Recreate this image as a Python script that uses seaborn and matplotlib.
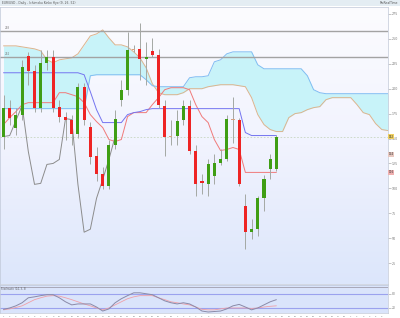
import numpy as np
import pandas as pd
import matplotlib
matplotlib.use("Agg")
import matplotlib.pyplot as plt
from matplotlib.colors import LinearSegmentedColormap
import seaborn as sns

# ---- data (price units) ----
opens = [152, 181, 161, 174, 233, 218, 181, 226, 232, 182, 172, 169, 155, 202, 162,
         132, 114, 102, 144, 189, 199, 240, 240, 230, 238, 234, 183, 152, 153, 169,
         183, 137, 107, 104, 112, 125, 129, 170, 169, 82, 56, 59, 90, 119, 119]
highs = [194, 189, 181, 229, 237, 224, 239, 239, 239, 189, 177, 174, 206, 206, 167,
         141, 121, 149, 179, 209, 257, 244, 266, 247, 251, 240, 189, 169, 179, 189,
         189, 144, 114, 129, 134, 139, 174, 192, 171, 94, 69, 92, 113, 134, 154]
lows = [139, 164, 154, 169, 204, 177, 177, 219, 177, 167, 149, 144, 151, 164, 124,
        107, 99, 99, 139, 183, 194, 237, 209, 204, 232, 181, 132, 144, 144, 164,
        134, 92, 94, 92, 104, 123, 127, 146, 102, 39, 49, 52, 77, 109, 117]
closes = [181, 171, 174, 222, 218, 181, 226, 232, 181, 172, 169, 155, 202, 169, 131,
          114, 102, 144, 170, 199, 239, 239, 230, 232, 234, 184, 152, 153, 168, 183,
          137, 104, 105, 124, 125, 129, 170, 169, 104, 56, 59, 90, 109, 129, 152]
tenkan = [164, 171, 177, 184, 186, 186, 186, 186, 186, 196, 196, 194, 192, 186, 174,
          167, 161, 149, 147, 149, 172, 176, 176, 176, 184, 191, 199, 201, 201, 201,
          199, 184, 172, 166, 149, 138, 139, 141, 139, 116, 116, 116, 116, 116, 116]
kijun = [216, 216, 216, 216, 216, 216, 216, 216, 216, 216, 216, 216, 216, 214, 197,
         179, 166, 166, 166, 166, 174, 176, 177, 179, 180, 180, 180, 180, 180, 180,
         180, 180, 180, 180, 180, 180, 180, 180, 180, 156, 153, 153, 153, 153, 153]
span_a = [243, 243, 243, 242, 241, 240, 238, 229, 226, 229, 230, 231, 235, 244, 253,
          255, 259, 251, 244, 244, 242, 237, 231, 221, 205, 196, 194, 194, 194, 196,
          200, 200, 200, 202, 203, 204, 204, 204, 203, 202, 191, 174, 164, 159, 157,
          157, 171, 175, 176, 179, 181, 182, 189, 191, 191, 191, 191, 184, 176, 174,
          165, 159, 158]
span_b = [180, 180, 180, 180, 180, 180, 180, 180, 180, 180, 180, 180, 180, 180, 213,
          214, 214, 214, 214, 214, 214, 214, 214, 209, 203, 202, 202, 202, 202, 202,
          211, 212, 212, 213, 227, 229, 235, 237, 237, 237, 237, 224, 220, 220, 220,
          220, 220, 220, 220, 213, 199, 196, 195, 195, 195, 195, 195, 195, 195, 195,
          195, 195, 195]
stoch_k = [14, 20, 29, 42, 63, 67, 72, 76, 76, 63, 46, 33, 37, 37, 37,
           24, 7, 16, 42, 59, 72, 84, 84, 80, 76, 63, 50, 42, 37, 42,
           37, 24, 7, 3, 5, 7, 16, 29, 35, 24, 12, 20, 33, 46, 55]
stoch_d = [12, 16, 22, 29, 42, 55, 63, 70, 72, 70, 63, 55, 46, 37, 29,
           20, 12, 20, 33, 46, 59, 67, 72, 72, 72, 63, 55, 46, 42, 37,
           33, 24, 14, 12, 12, 16, 20, 20, 20, 20, 18, 20, 24, 27, 29]
levels = [258, 232]
price_ticks = list(range(25, 280, 25))
stoch_levels = [80, 20]
lag = 26

df = pd.DataFrame({"i": np.arange(len(closes)), "open": opens, "high": highs,
                   "low": lows, "close": closes, "tenkan": tenkan, "kijun": kijun,
                   "k": stoch_k, "d": stoch_d})
cloud = pd.DataFrame({"i": np.arange(len(span_a)), "a": span_a, "b": span_b})
chikou = pd.DataFrame({"i": df["i"].values[:len(closes) - lag],
                       "v": df["close"].values[lag:]})

sns.set_theme(style="white")
plt.rcParams['font.family'] = ['DejaVu Sans']

W, H = 400, 318
fig = plt.figure(figsize=(W / 100, H / 100), dpi=100)
fig.patch.set_facecolor('white')

ax = fig.add_axes([0, (H - 284) / H, 388 / W, 277 / H])
ax2 = fig.add_axes([0, (H - 313) / H, 388 / W, 28 / H])
hdr = fig.add_axes([0, (H - 6) / H, 1, 6 / H])
hdr.set_facecolor('#e4edf3')
hdr.set_xticks([]); hdr.set_yticks([])
for s in hdr.spines.values():
    s.set_visible(False)
hdr.text(0.005, 0.5, "EUR/USD - Daily - Ichimoku Kinko Hyo (9, 26, 52)", fontsize=2.2,
         color='#555555', va='center')
hdr.text(0.995, 0.5, "ProRealTime", fontsize=2.2, color='#555555', va='center', ha='right')

xl = (-0.565, 62.0)

# gradient backgrounds
g = np.linspace(0, 1, 256).reshape(-1, 1)
cm_main = LinearSegmentedColormap.from_list('m', ['#fcfcff', '#f1f3fe', '#dce6fb'])
ax.imshow(g, cmap=cm_main, extent=[0, 1, 0, 1], transform=ax.transAxes,
          aspect='auto', zorder=0)
ax2.set_facecolor('#dae4fb')

# cloud
ax.fill_between(cloud["i"], cloud["a"], cloud["b"], color='#c8f3f9', zorder=1, lw=0)
sns.lineplot(data=cloud, x="i", y="a", ax=ax, color='#dcb48e', lw=0.7, zorder=2)
sns.lineplot(data=cloud, x="i", y="b", ax=ax, color='#80bdf2', lw=0.7, zorder=2)

# level lines
for lv in levels:
    ax.axhline(lv, color='#a3a3a3', lw=1.0, zorder=2)
    ax.text(0.2, lv + 1.5, f"{lv:.0f}", fontsize=2, color='#777777', zorder=6)
ax.axhline(closes[-1], color='#c9d6c2', lw=0.6, ls=(0, (2, 2)), zorder=2)

# indicator lines
sns.lineplot(data=df, x="i", y="tenkan", ax=ax, color='#f07a7a', lw=0.7, zorder=3)
sns.lineplot(data=df, x="i", y="kijun", ax=ax, color='#7474f0', lw=0.7, zorder=3)
sns.lineplot(data=chikou, x="i", y="v", ax=ax, color='#8c8c8c', lw=0.7, zorder=3)

# candles
up = df["close"] >= df["open"]
body_lo = np.minimum(df["open"], df["close"])
body_h = np.maximum(np.abs(df["close"] - df["open"]), 1.0)
cols = np.where(up, '#3f9e14', '#ee2424')
cols = np.where(np.abs(df["close"] - df["open"]) <= 1, '#d8a080', cols)
ax.vlines(df["i"], df["low"], df["high"], color='#a4a8a4', lw=0.7, zorder=4)
ax.bar(df["i"], body_h, bottom=body_lo, width=0.5, color=cols, zorder=5, lw=0)

ax.set_xlim(*xl)
ax.set_ylim(4, 282)
ax.yaxis.tick_right()
ax.set_yticks(price_ticks)
ax.set_yticklabels([f"{t:.0f}" for t in price_ticks], fontsize=2.3, color='#777777')
ax.tick_params(axis='y', length=2, width=0.4, color='#999999', pad=1)
ax.set_xticks([])
ax.set_xlabel(""); ax.set_ylabel("")
for s in ax.spines.values():
    s.set_color('#c0c8d8'); s.set_linewidth(0.5)

# right-axis price tags
for val, fc in [(closes[-1], '#f0d060'), (134, '#e8c8c0'), (116, '#f0b0b0')]:
    ax.text(1.002, (val - 4) / 278, f"{val:.0f}", transform=ax.transAxes, fontsize=2,
            color='#333333', va='center', ha='left',
            bbox=dict(boxstyle='square,pad=0.15', fc=fc, ec='none'))

# stochastic panel
ax2.axhline(110, color='#a8a8b8', lw=0.7)
for lv in stoch_levels:
    ax2.axhline(lv, color='#9ba2ee', lw=0.8)
sns.lineplot(data=df, x="i", y="d", ax=ax2, color='#f0a0a8', lw=0.6)
sns.lineplot(data=df, x="i", y="k", ax=ax2, color='#8a8aa8', lw=0.7)
ax2.set_xlim(*xl)
ax2.set_ylim(-1.3, 117)
ax2.yaxis.tick_right()
ax2.set_yticks(stoch_levels)
ax2.set_yticklabels([str(v) for v in stoch_levels], fontsize=2.2, color='#777777')
ax2.tick_params(axis='y', length=2, width=0.4, color='#999999', pad=1)
ax2.set_xticks(np.arange(0, 62, 1))
ax2.set_xticklabels([str((d % 28) + 1) for d in range(62)], fontsize=1.6, color='#777777')
ax2.tick_params(axis='x', length=1.5, width=0.4, color='#999999', pad=0.5)
ax2.set_xlabel(""); ax2.set_ylabel("")
for s in ax2.spines.values():
    s.set_color('#c0c8d8'); s.set_linewidth(0.5)
ax2.text(0.002, 0.93, "Stochastic (14, 3, 3)", transform=ax2.transAxes, fontsize=1.8,
         color='#555555', va='top')

fig.savefig("out.png", dpi=100, facecolor='white')
